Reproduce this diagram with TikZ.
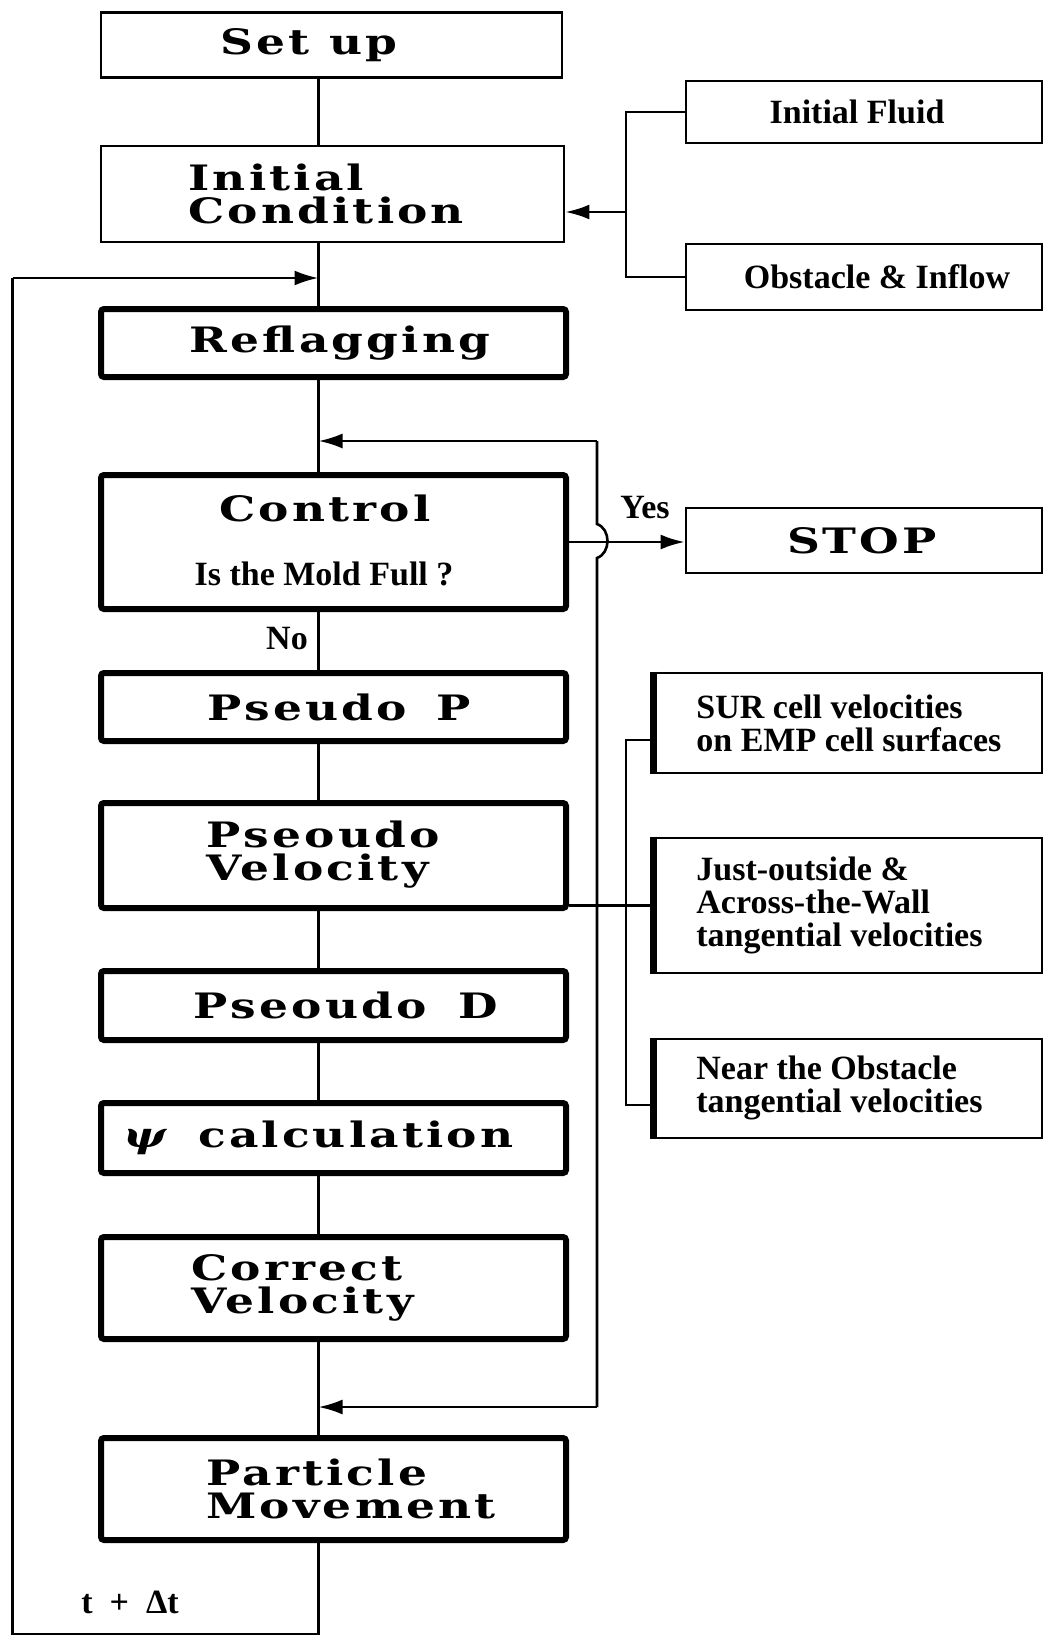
\documentclass[tikz,border=0pt]{standalone}
\usepackage{fontspec}
\newfontfamily\mf[FakeStretch=1.3, LetterSpace=9]{DejaVu Serif}
\newfontfamily\sidefont{Liberation Serif}
\usetikzlibrary{arrows.meta}
\begin{document}
\begin{tikzpicture}[x=0.5pt,y=-0.5pt,
  thinbox/.style={draw, line width=1.4pt, inner sep=0pt},
  thickbox/.style={draw, line width=3pt, rounded corners=1.5pt, inner sep=0pt},
  sidebox/.style={draw, line width=1.3pt, inner sep=0pt},
  mt/.style={font=\mf\bfseries\fontsize{17.5}{16.5}\selectfont, inner sep=0pt, align=left},
  st/.style={font=\sidefont\bfseries\fontsize{17}{16.5}\selectfont, inner sep=0pt, align=left},
  conn/.style={line width=1.3pt},
  arr/.style={conn, -{Latex[length=12pt,width=7.5pt]}},
  thickedge/.style={line width=3.5pt}
]
\useasboundingbox (0,0) rectangle (1044,1637);

% main column boxes
\node[thinbox, minimum width=230.5pt, minimum height=32.5pt] (setup) at (331.5,45) {};
\node[thinbox, minimum width=231.5pt, minimum height=48pt] (ic) at (332.5,194) {};
\node[thickbox, minimum width=232.5pt, minimum height=34pt] (refl) at (333.5,343) {};
\node[thickbox, minimum width=232.5pt, minimum height=67pt] (ctrl) at (333.5,542) {};
\node[thickbox, minimum width=232.5pt, minimum height=34pt] (psp) at (333.5,707) {};
\node[thickbox, minimum width=232.5pt, minimum height=52.5pt] (psv) at (333.5,855.5) {};
\node[thickbox, minimum width=232.5pt, minimum height=34.5pt] (psd) at (333.5,1005.5) {};
\node[thickbox, minimum width=232.5pt, minimum height=35pt] (psi) at (333.5,1138) {};
\node[thickbox, minimum width=232.5pt, minimum height=51pt] (cv) at (333.5,1288) {};
\node[thickbox, minimum width=232.5pt, minimum height=51pt] (pm) at (333.5,1489) {};

% right boxes
\node[thinbox, minimum width=178pt, minimum height=31pt] (ifl) at (864,112) {};
\node[thinbox, minimum width=178pt, minimum height=33pt] (obs) at (864,277) {};
\node[thinbox, minimum width=178pt, minimum height=32.5pt] (stop) at (864,540.5) {};
\node[sidebox, minimum width=193.5pt, minimum height=50pt] (sur) at (848.5,723) {};
\node[sidebox, minimum width=193.5pt, minimum height=67.5pt] (jo) at (848.5,905.5) {};
\node[sidebox, minimum width=193.5pt, minimum height=49.5pt] (near) at (848.5,1088.5) {};
\draw[thickedge] (sur.north west) -- (sur.south west);
\draw[thickedge] (jo.north west) -- (jo.south west);
\draw[thickedge] (near.north west) -- (near.south west);

% texts
\node[mt] (tsetup) at (309,45) {Set\hspace{10pt}up};
\node[mt, anchor=west] (tic) at (188,194) {Initial\\Condition};
\node[mt] (trefl) at (340,343) {Reflagging};
\node[mt] (tctrl) at (325,508) {Control};
\node[st] (tmold) at (324,574) {Is the Mold Full ?};
\node[mt] (tpsp) at (339,707) {Pseudo\hspace{15pt}P};
\node[mt, anchor=west] (tpsv) at (206,855) {Pseoudo\\Velocity};
\node[mt] (tpsd) at (346,1005) {Pseoudo\hspace{16pt}D};
\node[mt, anchor=west] (tpsi) at (123,1138) {{\itshape ψ}\hspace{16pt}calculation};
\node[mt, anchor=west] (tcv) at (191,1288) {Correct\\Velocity};
\node[mt, anchor=west] (tpm) at (206,1489) {Particle\\Movement};
\node[mt] (tstop) at (862,541) {STOP};

\node[st] (tifl) at (857,112) {Initial Fluid};
\node[st] (tobs) at (877,277) {Obstacle \& Inflow};
\node[st, anchor=west] (tsur) at (696,723) {SUR cell velocities\\on EMP cell surfaces};
\node[st, anchor=west] (tjo) at (696,905) {Just-outside \&\\Across-the-Wall\\tangential velocities};
\node[st, anchor=west] (tnear) at (696,1088) {Near the Obstacle\\tangential velocities};
\node[st] (tyes) at (645,508) {Yes};
\node[st] (tno) at (287,639) {No};
\node[st] (tdt) at (130,1602) {t\enspace+\enspace Δt};

% coordinates
\coordinate (mx) at (318.5,0);
\coordinate (bt) at (626,212);
\coordinate (lt) at (12.5,278);
\coordinate (lb) at (12.5,1634);
\coordinate (rt) at (597,441);
\coordinate (rb) at (597,1407);
\coordinate (bs) at (626,740);
\coordinate (bn) at (626,1105);

% main vertical flow
\draw[conn] (setup.south -| mx) -- (ic.north -| mx);
\draw[conn] (ic.south -| mx) -- (refl.north -| mx);
\draw[conn] (refl.south -| mx) -- (ctrl.north -| mx);
\draw[conn] (ctrl.south -| mx) -- (psp.north -| mx);
\draw[conn] (psp.south -| mx) -- (psv.north -| mx);
\draw[conn] (psv.south -| mx) -- (psd.north -| mx);
\draw[conn] (psd.south -| mx) -- (psi.north -| mx);
\draw[conn] (psi.south -| mx) -- (cv.north -| mx);
\draw[conn] (cv.south -| mx) -- (pm.north -| mx);

% top bracket
\draw[conn] (ifl.west) -- (ifl.west -| bt) -- (obs.west -| bt) -- (obs.west);
\draw[arr] (bt) -- (bt -| ic.east);

% left loop
\draw[conn] (pm.south -| mx) |- (lb) -- (lt);
\draw[arr] (lt) -- (lt -| mx);

% right loop with jump
\draw[conn] (rt) -- (597,524) .. controls (611,529) and (611,553) .. (597,558) -- (rb);
\draw[arr] (rt) -- (rt -| mx);
\draw[arr] (rb) -- (rb -| mx);

% yes arrow
\draw[arr] (ctrl.east) -- (ctrl.east -| stop.west);

% lower bracket
\draw[conn] (bs -| sur.west) -- (bs) -- (bn) -- (bn -| near.west);
\draw[conn] (jo.west -| psv.east) -- (jo.west);
\end{tikzpicture}
\end{document}
